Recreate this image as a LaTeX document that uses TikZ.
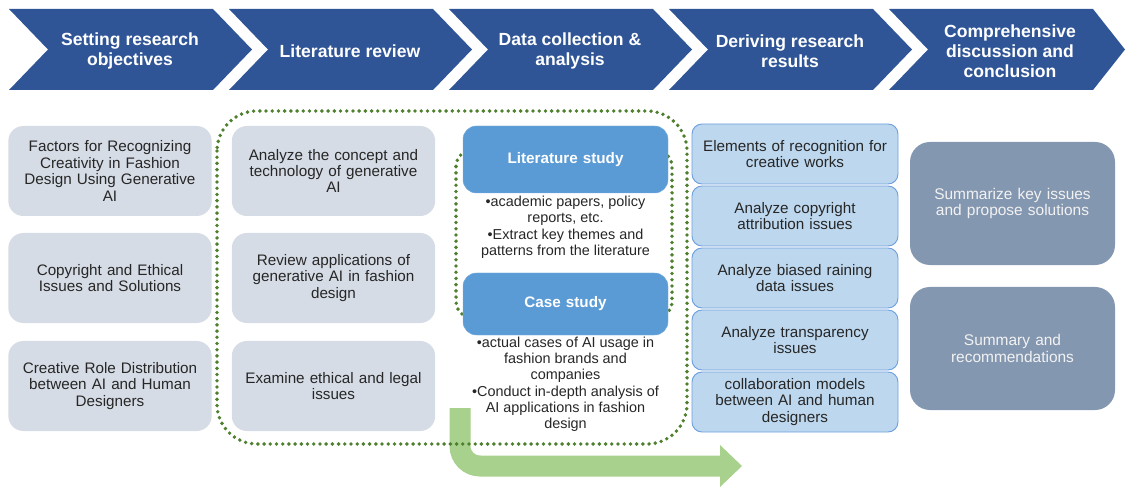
\documentclass[tikz,border=0pt]{standalone}
\usepackage{fontspec}
\setmainfont{Liberation Sans}
\usepackage{tikz}
\usetikzlibrary{arrows.meta}

\definecolor{chevblue}{RGB}{47, 85, 151}
\definecolor{boxgray}{RGB}{214, 220, 229}
\definecolor{studyblue}{RGB}{91, 155, 213}
\definecolor{resultblue}{RGB}{189, 215, 238}
\definecolor{resultedge}{RGB}{110, 160, 222}
\definecolor{slateblue}{RGB}{132, 151, 176}
\definecolor{dotgreen}{RGB}{78, 128, 46}
\definecolor{arrowgreen}{RGB}{169, 209, 142}
\definecolor{textgray}{RGB}{38, 38, 38}

\begin{document}
\begin{tikzpicture}[x=0.03cm, y=-0.03cm,
  stage/.style={text=white, font=\fontsize{15}{17}\selectfont\bfseries, align=center},
  topicbox/.style={fill=boxgray, rounded corners=0.45cm, minimum width=6.1cm, minimum height=2.7cm, text width=5.9cm, inner sep=0pt, align=center, text=textgray, font=\fontsize{13}{14}\selectfont},
  studybox/.style={fill=studyblue, draw=studyblue!80!white, rounded corners=0.4cm, minimum width=6.15cm, text width=5.9cm, inner sep=0pt, align=center, text=white, font=\fontsize{13}{15}\selectfont\bfseries},
  notes/.style={align=center, text=textgray, inner sep=0pt, font=\fontsize{12.3}{13.8}\selectfont},
  resultbox/.style={fill=resultblue, draw=resultedge, thick, rounded corners=0.3cm, minimum width=6.18cm, minimum height=1.8cm, text width=6cm, inner sep=0pt, align=center, text=textgray, font=\fontsize{13}{14.4}\selectfont},
  summarybox/.style={fill=slateblue, rounded corners=0.6cm, minimum width=6.15cm, minimum height=3.69cm, text width=5.9cm, inner sep=0pt, align=center, text=white!95!black, font=\fontsize{13.2}{14.4}\selectfont},
  dotline/.style={draw=dotgreen, line width=3.3pt, dash pattern=on 0pt off 5.3pt, line cap=round}
]
  \useasboundingbox (0,0) rectangle (1126,489);

  % Top row: process stages
  \fill[chevblue] (9,9) -- (213,9) -- (252,49.5) -- (213,90) -- (9,90) -- (48,49.5) -- cycle;
  \fill[chevblue] (229,9) -- (433,9) -- (472,49.5) -- (433,90) -- (229,90) -- (268,49.5) -- cycle;
  \fill[chevblue] (449,9) -- (653,9) -- (692,49.5) -- (653,90) -- (449,90) -- (488,49.5) -- cycle;
  \fill[chevblue] (669,9) -- (873,9) -- (912,49.5) -- (873,90) -- (669,90) -- (708,49.5) -- cycle;
  \fill[chevblue] (889,9) -- (1093,9) -- (1125,49.5) -- (1093,90) -- (889,90) -- (928,49.5) -- cycle;

  \node[stage] (setgoal) at (130, 51) {Setting research\\objectives};
  \node[stage] (litreview) at (350, 51) {Literature review};
  \node[stage] (datacoll) at (570, 51) {Data collection \&\\analysis};
  \node[stage] (results) at (790, 51) {Deriving research\\results};
  \node[stage] (conclusion) at (1010, 51) {Comprehensive\\discussion and\\conclusion};

  % Flow arrow under the data column
  \coordinate (flowstart) at (460, 408);
  \coordinate (flowend) at (742, 466);
  \draw[arrowgreen, line width=0.63cm, rounded corners=0.6cm, -{Triangle[length=0.66cm, width=1.26cm, line width=0pt]}] (flowstart) |- (flowend);

  % Dotted frames
  \draw[dotline, rounded corners=1.2cm] (217, 111) rectangle (687, 444);
  \draw[dotline, rounded corners=0.5cm] (456, 150) rectangle (672, 318);

  % Research objectives
  \node[topicbox] (obj1) at (110, 171) {Factors for Recognizing\\Creativity in Fashion\\Design Using Generative\\AI};
  \node[topicbox] (obj2) at (110, 278) {Copyright and Ethical\\Issues and Solutions};
  \node[topicbox] (obj3) at (110, 386) {Creative Role Distribution\\between AI and Human\\Designers};

  % Literature review
  \node[topicbox] (rev1) at (333.5, 171) {Analyze the concept and\\technology of generative\\AI};
  \node[topicbox] (rev2) at (333.5, 278) {Review applications of\\generative AI in fashion\\design};
  \node[topicbox] (rev3) at (333.5, 386) {Examine ethical and legal\\issues};

  % Data collection & analysis
  \node[studybox, minimum height=2.01cm] (litstudy) at (565.5, 159.5) {Literature study};
  \node[notes] (litnote1) at (565.5, 211) {•academic papers, policy\\reports, etc.};
  \node[notes] (litnote2) at (565.5, 244) {•Extract key themes and\\patterns from the literature};
  \node[studybox, minimum height=1.86cm] (casestudy) at (565.5, 304) {Case study};
  \node[notes] (casenote1) at (565.5, 359.5) {•actual cases of AI usage in\\fashion brands and\\companies};
  \node[notes] (casenote2) at (565.5, 408.5) {•Conduct in-depth analysis of\\AI applications in fashion\\design};

  % Research results
  \node[resultbox] (res1) at (795, 154) {Elements of recognition for\\creative works};
  \node[resultbox] (res2) at (795, 216) {Analyze copyright\\attribution issues};
  \node[resultbox] (res3) at (795, 278) {Analyze biased raining\\data issues};
  \node[resultbox] (res4) at (795, 340) {Analyze transparency\\issues};
  \node[resultbox] (res5) at (795, 402) {collaboration models\\between AI and human\\designers};

  % Conclusion
  \node[summarybox] (sum1) at (1012.5, 203.5) {Summarize key issues\\and propose solutions};
  \node[summarybox] (sum2) at (1012.5, 348.5) {Summary and\\recommendations};
\end{tikzpicture}
\end{document}
